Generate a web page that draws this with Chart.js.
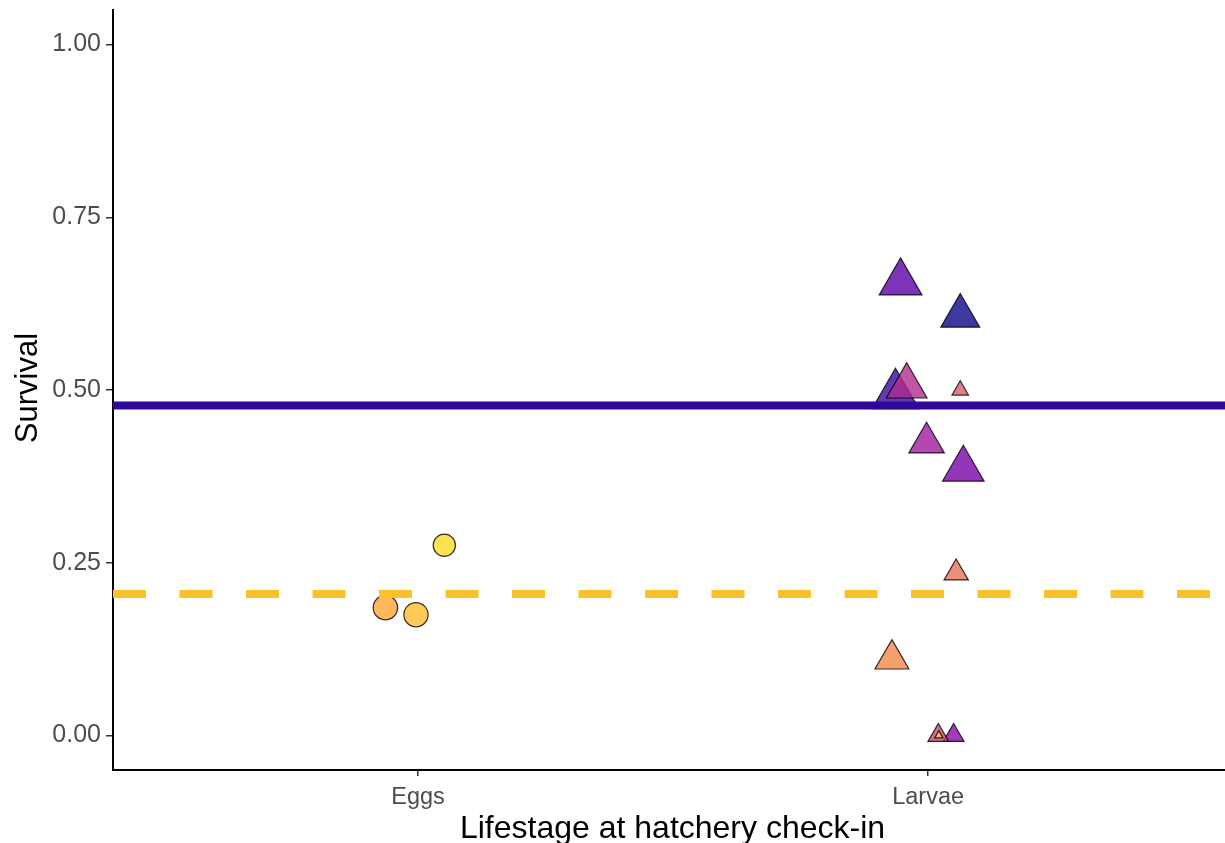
<!DOCTYPE html>
<html>
<head>
<meta charset="utf-8">
<script src="https://cdn.jsdelivr.net/npm/chart.js@4.4.1/dist/chart.umd.min.js"></script>
<style>
  html, body { margin: 0; padding: 0; background: #ffffff; }
  #wrap { width: 1225px; height: 843px; overflow: hidden; }
</style>
</head>
<body>
<div id="wrap"><canvas id="c" width="1225" height="843"></canvas></div>
<script>
// ---------- data ----------
const categories = ['Eggs', 'Larvae'];
const yTickValues = [0, 0.25, 0.5, 0.75, 1.0];

// Eggs (jittered around category 1)
const eggsX = [0.936, 0.996, 1.0515];
const eggsY = [0.185, 0.1748, 0.2753];

// Larvae (jittered around category 2)
const larvaeX = [1.936, 1.958, 1.997, 2.069, 1.946, 2.063, 2.063, 2.055, 1.929, 2.050, 2.020, 2.021];
const larvaeY = [0.4925, 0.5054, 0.4237, 0.3854, 0.6555, 0.6072, 0.4996, 0.2352, 0.1104, 0.0, 0.0, 0.0];

// model estimates (horizontal reference lines)
const larvaeEstimate = 0.4776;
const eggsEstimate = 0.2048;

// ---------- styling (size / colour encodings) ----------
const eggsRadius = [12.2, 12.1, 11.1];
const eggsColor = ['#FCA636', '#FEBC2A', '#FCDB26'];
const larvaeRadius = [27, 23.5, 20.5, 24, 24.7, 22.5, 9.5, 14, 19.6, 12, 12, 4.8];
const larvaeColor = ['#3A0AA0', '#B12A90', '#A01A9C', '#7A02A8', '#5C01A6', '#0D0887',
                     '#DD5E66', '#EA7457', '#F48849', '#8B0AA5', '#CC4778', '#EEE51E'];

const X_MIN = 0.402, X_MAX = 2.582;
const Y_MIN = -0.05, Y_MAX = 1.05;

function withAlpha(hex, a) {
  const n = parseInt(hex.slice(1), 16);
  return `rgba(${(n >> 16) & 255},${(n >> 8) & 255},${n & 255},${a})`;
}

const FONT = "'Liberation Sans', Arial, sans-serif";

const titlePlugin = {
  id: 'axisTitles',
  afterDraw(chart) {
    const ctx = chart.ctx;
    ctx.save();
    ctx.fillStyle = '#000000';
    ctx.textBaseline = 'alphabetic';
    ctx.textAlign = 'center';
    ctx.font = `32px ${FONT}`;
    ctx.fillText('Lifestage at hatchery check-in', 672.5, 838);
    ctx.translate(37, 388);
    ctx.rotate(-Math.PI / 2);
    ctx.font = `31px ${FONT}`;
    ctx.fillText('Survival', 0, 0);
    ctx.restore();
  }
};

const bgPlugin = {
  id: 'bg',
  beforeDraw(chart) {
    const ctx = chart.ctx;
    ctx.save();
    ctx.fillStyle = '#ffffff';
    ctx.fillRect(0, 0, chart.width, chart.height);
    ctx.restore();
  }
};

new Chart(document.getElementById('c'), {
  type: 'scatter',
  data: {
    datasets: [
      {
        type: 'line',
        order: 0,
        data: [{x: X_MIN, y: larvaeEstimate}, {x: X_MAX, y: larvaeEstimate}],
        borderColor: '#2E0896',
        borderWidth: 8,
        pointRadius: 0,
        borderCapStyle: 'butt',
        fill: false
      },
      {
        type: 'line',
        order: 0,
        data: [{x: X_MIN, y: eggsEstimate}, {x: X_MAX, y: eggsEstimate}],
        borderColor: '#FCC02A',
        borderWidth: 8,
        borderDash: [33, 33.5],
        pointRadius: 0,
        borderCapStyle: 'butt',
        fill: false
      },
      {
        order: 1,
        data: larvaeX.map((x, i) => ({x, y: larvaeY[i]})),
        pointStyle: 'triangle',
        pointRadius: larvaeRadius,
        pointBackgroundColor: larvaeColor.map(c => withAlpha(c, 0.8)),
        pointBorderColor: 'rgba(0,0,0,0.8)',
        pointBorderWidth: 1.2
      },
      {
        order: 2,
        data: eggsX.map((x, i) => ({x, y: eggsY[i]})),
        pointStyle: 'circle',
        pointRadius: eggsRadius,
        pointBackgroundColor: eggsColor.map(c => withAlpha(c, 0.8)),
        pointBorderColor: 'rgba(0,0,0,0.8)',
        pointBorderWidth: 1.2
      }
    ]
  },
  options: {
    responsive: false,
    animation: false,
    devicePixelRatio: 1,
    layout: { autoPadding: false, padding: { top: 10, right: 0, left: 0, bottom: 0 } },
    plugins: { legend: { display: false }, tooltip: { enabled: false } },
    elements: { point: { hoverRadius: 0 } },
    scales: {
      x: {
        type: 'linear',
        min: X_MIN,
        max: X_MAX,
        afterBuildTicks(scale) { scale.ticks = [{value: 1}, {value: 2}]; },
        afterFit(scale) {
          scale.height = 73;
          scale.paddingLeft = 0; scale.paddingRight = 0;
        },
        ticks: {
          callback: (v) => categories[Math.round(v) - 1] || '',
          font: { family: FONT, size: 23.5 },
          color: '#4D4D4D',
          padding: 7,
          maxRotation: 0,
          autoSkip: false
        },
        grid: { drawOnChartArea: false, drawTicks: true, tickLength: 6, color: '#333333', lineWidth: 1.5 },
        border: { display: true, color: '#000000', width: 2 }
      },
      y: {
        type: 'linear',
        min: Y_MIN,
        max: Y_MAX,
        afterBuildTicks(scale) { scale.ticks = yTickValues.map(v => ({value: v})); },
        afterFit(scale) {
          scale.width = 113;
          scale.paddingTop = 0; scale.paddingBottom = 0;
        },
        ticks: {
          callback: (v) => Number(v).toFixed(2),
          font: { family: FONT, size: 25 },
          color: '#4D4D4D',
          padding: 5,
          autoSkip: false
        },
        grid: { drawOnChartArea: false, drawTicks: true, tickLength: 7, color: '#333333', lineWidth: 1.5 },
        border: { display: true, color: '#000000', width: 2 }
      }
    }
  },
  plugins: [bgPlugin, titlePlugin]
});
</script>
</body>
</html>
